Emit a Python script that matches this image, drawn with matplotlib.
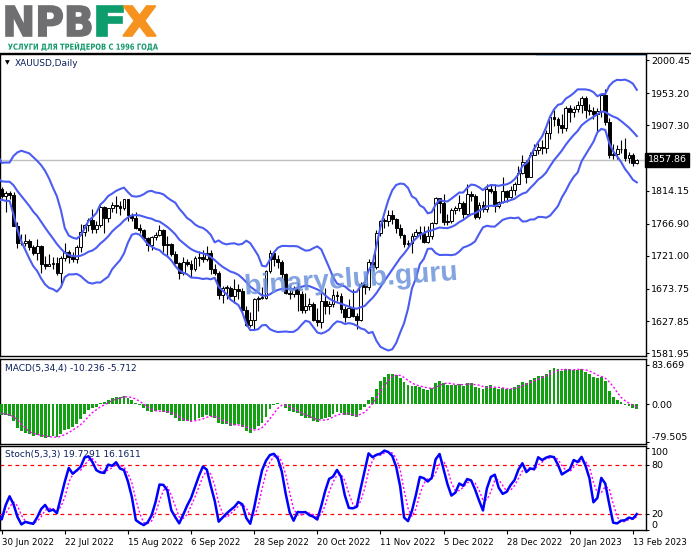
import numpy as np
import matplotlib
matplotlib.use('Agg')
import matplotlib.pyplot as plt
from matplotlib.textpath import TextPath
from matplotlib.path import Path
from matplotlib.patches import PathPatch
from matplotlib.font_manager import FontProperties
from matplotlib.transforms import Affine2D, blended_transform_factory
from matplotlib.lines import Line2D

plt.rcParams['font.family'] = ['DejaVu Sans']

# ---------------- DATA (XAUUSD daily, O/H/L/C) ----------------
# first N_WARM bars are history before the visible window (used only for indicators)
N_WARM = 48
opens = [1934, 1898, 1904, 1886, 1894, 1896, 1862, 1868, 1881, 1877, 1883, 1854, 1838, 1853, 1822, 1811, 1824, 1815, 1815, 1841,
         1846, 1853, 1865, 1853, 1851, 1853, 1856, 1837, 1847, 1869, 1851, 1841, 1852, 1853, 1848, 1871, 1819, 1808, 1835, 1857,
         1840, 1839, 1832, 1838, 1822, 1827, 1823, 1820,
         1817, 1807, 1811, 1808, 1764, 1739, 1740, 1742, 1733, 1725, 1735, 1710, 1707, 1709, 1711, 1696, 1718, 1727, 1719, 1717,
         1734, 1755, 1765, 1772, 1760, 1765, 1791, 1775, 1789, 1794, 1792, 1789, 1802, 1779, 1775, 1761, 1758, 1747, 1736, 1748,
         1751, 1758, 1737, 1738, 1723, 1711, 1697, 1712, 1710, 1702, 1718, 1720, 1716, 1725, 1702, 1697, 1665, 1675, 1675, 1664,
         1673, 1671, 1644, 1622, 1629, 1660, 1661, 1661, 1699, 1725, 1716, 1712, 1695, 1668, 1666, 1673, 1666, 1644, 1650, 1652,
         1629, 1627, 1657, 1649, 1652, 1665, 1663, 1645, 1634, 1647, 1635, 1630, 1681, 1676, 1712, 1705, 1754, 1771, 1771, 1779,
         1774, 1761, 1751, 1738, 1740, 1750, 1755, 1754, 1741, 1749, 1768, 1803, 1797, 1769, 1771, 1786, 1789, 1797, 1781, 1810,
         1807, 1777, 1793, 1788, 1817, 1814, 1792, 1798, 1813, 1805, 1815, 1824, 1839, 1855, 1833, 1865, 1872, 1877, 1875, 1896,
         1920, 1916, 1908, 1904, 1932, 1926, 1931, 1936, 1946, 1930, 1928, 1923, 1928, 1951, 1912, 1865, 1867, 1873, 1874, 1861,
         1865, 1853]
highs = [1936, 1911, 1906, 1897, 1920, 1899, 1872, 1883, 1909, 1890, 1886, 1860, 1859, 1857, 1826, 1826, 1832, 1822, 1847, 1850,
         1865, 1870, 1868, 1858, 1860, 1860, 1857, 1852, 1871, 1874, 1855, 1856, 1860, 1858, 1876, 1878, 1832, 1836, 1857, 1858,
         1846, 1847, 1848, 1839, 1831, 1837, 1830, 1829,
         1820, 1813, 1813, 1812, 1770, 1752, 1752, 1745, 1736, 1745, 1737, 1721, 1724, 1719, 1719, 1721, 1739, 1730, 1727, 1737,
         1767, 1767, 1775, 1788, 1771, 1793, 1792, 1790, 1798, 1807, 1800, 1802, 1802, 1782, 1783, 1767, 1760, 1748, 1750, 1755,
         1765, 1759, 1749, 1740, 1728, 1712, 1720, 1716, 1715, 1721, 1728, 1729, 1735, 1730, 1709, 1699, 1678, 1680, 1678, 1688,
         1681, 1675, 1650, 1641, 1661, 1664, 1676, 1701, 1729, 1727, 1722, 1715, 1697, 1679, 1678, 1683, 1671, 1668, 1661, 1655,
         1646, 1670, 1675, 1656, 1674, 1671, 1668, 1650, 1660, 1673, 1640, 1683, 1681, 1717, 1722, 1758, 1772, 1775, 1787, 1786,
         1775, 1766, 1752, 1744, 1754, 1760, 1763, 1764, 1764, 1769, 1805, 1804, 1810, 1781, 1789, 1792, 1808, 1800, 1824, 1814,
         1809, 1798, 1799, 1823, 1824, 1823, 1800, 1833, 1815, 1821, 1826, 1850, 1865, 1858, 1870, 1881, 1882, 1886, 1901, 1922,
         1929, 1920, 1924, 1935, 1936, 1935, 1942, 1949, 1949, 1938, 1934, 1932, 1952, 1959, 1918, 1881, 1880, 1886, 1890, 1870,
         1868, 1859]
lows = [1891, 1890, 1881, 1872, 1888, 1850, 1850, 1861, 1865, 1870, 1850, 1832, 1836, 1821, 1798, 1787, 1810, 1807, 1813, 1834,
        1843, 1851, 1846, 1845, 1848, 1849, 1831, 1828, 1843, 1850, 1836, 1838, 1846, 1841, 1825, 1819, 1805, 1806, 1812, 1832,
        1834, 1830, 1825, 1818, 1816, 1818, 1815, 1814,
        1803, 1784, 1802, 1763, 1732, 1736, 1735, 1730, 1722, 1715, 1697, 1702, 1706, 1702, 1693, 1681, 1713, 1711, 1712, 1711,
        1727, 1750, 1757, 1754, 1754, 1762, 1754, 1770, 1783, 1782, 1779, 1786, 1771, 1771, 1759, 1753, 1745, 1728, 1729, 1744,
        1749, 1727, 1720, 1721, 1709, 1688, 1694, 1707, 1691, 1700, 1707, 1712, 1713, 1695, 1693, 1660, 1654, 1659, 1662, 1654,
        1659, 1640, 1621, 1620, 1615, 1642, 1659, 1660, 1696, 1707, 1704, 1690, 1667, 1659, 1662, 1642, 1640, 1640, 1643, 1628,
        1621, 1618, 1638, 1638, 1648, 1657, 1640, 1626, 1633, 1634, 1617, 1628, 1666, 1672, 1700, 1702, 1750, 1761, 1763, 1767,
        1754, 1747, 1733, 1733, 1725, 1747, 1745, 1739, 1740, 1745, 1766, 1782, 1765, 1765, 1768, 1781, 1785, 1775, 1779, 1799,
        1774, 1774, 1783, 1784, 1811, 1784, 1789, 1796, 1798, 1803, 1808, 1824, 1838, 1825, 1833, 1865, 1867, 1867, 1868, 1888,
        1907, 1896, 1896, 1900, 1912, 1920, 1927, 1925, 1918, 1922, 1917, 1900, 1920, 1908, 1861, 1860, 1860, 1868, 1857, 1853,
        1850, 1852]
closes = [1898, 1904, 1886, 1894, 1896, 1862, 1868, 1881, 1877, 1883, 1854, 1838, 1853, 1822, 1811, 1824, 1815, 1815, 1841, 1846,
          1853, 1865, 1853, 1851, 1853, 1856, 1837, 1847, 1869, 1851, 1841, 1852, 1853, 1848, 1871, 1819, 1808, 1835, 1857, 1840,
          1839, 1832, 1838, 1822, 1827, 1823, 1820, 1817,
          1807, 1811, 1808, 1764, 1739, 1740, 1742, 1733, 1725, 1735, 1710, 1707, 1709, 1711, 1696, 1718, 1727, 1719, 1717, 1734,
          1755, 1765, 1772, 1760, 1765, 1791, 1775, 1789, 1794, 1792, 1789, 1802, 1779, 1775, 1761, 1758, 1747, 1736, 1748, 1751,
          1758, 1737, 1738, 1723, 1711, 1697, 1712, 1710, 1702, 1718, 1720, 1716, 1725, 1702, 1697, 1665, 1675, 1675, 1664, 1673,
          1671, 1644, 1622, 1629, 1660, 1661, 1661, 1699, 1725, 1716, 1712, 1695, 1668, 1666, 1673, 1666, 1644, 1650, 1652, 1629,
          1627, 1657, 1649, 1652, 1665, 1663, 1645, 1634, 1647, 1635, 1630, 1681, 1676, 1712, 1705, 1754, 1771, 1771, 1779, 1774,
          1761, 1751, 1738, 1740, 1750, 1755, 1754, 1741, 1749, 1768, 1803, 1797, 1769, 1771, 1786, 1789, 1797, 1781, 1810, 1807,
          1777, 1793, 1788, 1817, 1814, 1792, 1798, 1813, 1805, 1815, 1824, 1839, 1855, 1833, 1865, 1872, 1877, 1875, 1896, 1920,
          1916, 1908, 1904, 1932, 1926, 1931, 1936, 1946, 1930, 1928, 1923, 1928, 1951, 1912, 1865, 1867, 1873, 1874, 1861, 1865,
          1853, 1857.86]

date_labels = ["30 Jun 2022", "22 Jul 2022", "15 Aug 2022", "6 Sep 2022", "28 Sep 2022", "20 Oct 2022",
               "11 Nov 2022", "5 Dec 2022", "28 Dec 2022", "20 Jan 2023", "13 Feb 2023"]
date_label_bars = [0, 16, 32, 48, 64, 80, 96, 112, 128, 144, 160]   # bar index within visible window
price_ticks = [2000.45, 1953.20, 1907.30, 1814.15, 1766.90, 1721.00, 1673.75, 1627.85, 1581.95]
current_price = 1857.86
macd_ticks = [83.669, 0.0, -79.505]
macd_ticklabels = ["83.669", "0.00", "-79.505"]
stoch_ticks = [100, 80, 20, 0]
stoch_levels = [20, 80]
macd_text = "MACD(5,34,4) -10.236 -5.712"
stoch_text = "Stoch(5,3,3) 19.7291 16.1611"
BB_PERIOD, BB_DEV = 14, 2.0

# ---------------- INDICATORS ----------------
o = np.array(opens, float); h = np.array(highs, float)
l = np.array(lows, float); c = np.array(closes, float)
n = len(c)
x = np.arange(n) - N_WARM

def ema(v, p):
    a = 2.0 / (p + 1); out = np.empty_like(v); out[0] = v[0]
    for i in range(1, len(v)):
        out[i] = a * v[i] + (1 - a) * out[i - 1]
    return out

def sma(v, p):
    out = np.full(len(v), np.nan)
    for i in range(p - 1, len(v)):
        out[i] = np.mean(v[i - p + 1:i + 1])
    return out

macd = ema(c, 5) - ema(c, 34)
signal = sma(macd, 4)

bb_mid = sma(c, BB_PERIOD)
bb_sd = np.full(n, np.nan)
for i in range(BB_PERIOD - 1, n):
    bb_sd[i] = np.std(c[i - BB_PERIOD + 1:i + 1])
bb_up = bb_mid + BB_DEV * bb_sd
bb_dn = bb_mid - BB_DEV * bb_sd

LL = np.array([l[max(0, i - 4):i + 1].min() for i in range(n)])
HH = np.array([h[max(0, i - 4):i + 1].max() for i in range(n)])
num = c - LL; den = HH - LL
stK = np.full(n, np.nan)
for i in range(2, n):
    stK[i] = 100 * num[i - 2:i + 1].sum() / den[i - 2:i + 1].sum()
stD = sma(np.nan_to_num(stK), 3)

# ---------------- FIGURE ----------------
W, H = 691, 549
fig = plt.figure(figsize=(W / 100, H / 100), dpi=100)
fig.patch.set_facecolor('white')

def fy(py):
    return 1 - py / H

XR = 645.5
xlim = (-0.43, 163.2)

def mk_axes(top, bottom):
    ax = fig.add_axes([0, fy(bottom), XR / W, (bottom - top) / H])
    ax.set_xlim(*xlim)
    for s in ax.spines.values():
        s.set_color('black'); s.set_linewidth(1)
    ax.yaxis.tick_right()
    ax.tick_params(axis='y', length=2.5, width=0.8, labelsize=6.8, pad=1.5, colors='black')
    ax.set_xticks([])
    return ax

ax1 = mk_axes(53.5, 356)
ax2 = mk_axes(358.5, 444)
ax3 = mk_axes(446, 530)

vis = x >= -1

# ---- main pane ----
ax1.set_ylim(1577.86, 2010.0)
ax1.axhline(current_price, color='#c0c0c0', lw=1, zorder=1)
bb_col = '#4b5cf2'
for band in (bb_up, bb_mid, bb_dn):
    ax1.plot(x[vis], band[vis], color=bb_col, lw=1.5, zorder=5)
ax1.vlines(x[vis], l[vis], h[vis], color='black', lw=0.8, zorder=3)
up = (c >= o) & vis
dn = (c < o) & vis
body_b = np.minimum(o, c)
body_h = np.maximum(np.abs(c - o), 0.9)
ax1.bar(x[up], body_h[up], bottom=body_b[up], width=0.72, facecolor='white', edgecolor='black', lw=0.7, zorder=4)
ax1.bar(x[dn], body_h[dn], bottom=body_b[dn], width=0.72, facecolor='black', edgecolor='black', lw=0.7, zorder=4)
ax1.set_yticks(price_ticks)
ax1.set_yticklabels([f"{v:.2f}" for v in price_ticks])
ax1.text(1.003, current_price, f"{current_price:.2f}", transform=blended_transform_factory(ax1.transAxes, ax1.transData),
         ha='left', va='center', fontsize=6.8, color='white', clip_on=False,
         bbox=dict(facecolor='black', edgecolor='black', pad=1.6))
ax1.plot([537 / XR, 1.0], [0.995, 0.995], transform=ax1.transAxes, color='#a8d4f2', lw=1.2, zorder=2)
ax1.text(5 / XR, (356 - 63) / (356 - 53.5), "▼", transform=ax1.transAxes, fontsize=4.5, ha='left', va='center', color='black')
ax1.text(15 / XR, (356 - 63) / (356 - 53.5), "XAUUSD,Daily", transform=ax1.transAxes, fontsize=6.5,
         ha='left', va='center', color='#0b1f5c')

# ---- MACD pane ----
ax2.set_ylim(-84.5, 97.4)
ax2.bar(x[vis], macd[vis], width=0.72, color='#12a012', zorder=3)
ax2.plot(x[vis], signal[vis], color='#ff00ff', lw=1.0, ls=(0, (1.5, 1.5)), zorder=4)
ax2.set_yticks(macd_ticks)
ax2.set_yticklabels(macd_ticklabels)
ax2.get_yticklabels()[-1].set_va('bottom')
ax2.text(5 / XR, (444 - 368) / (444 - 358.5), macd_text, transform=ax2.transAxes, fontsize=6.5,
         ha='left', va='center', color='#0b1f5c')

# ---- Stochastic pane ----
ax3.set_ylim(0, 103)
for lev in stoch_levels:
    ax3.axhline(lev, color='#ff0000', lw=0.9, ls=(0, (3, 3)), zorder=2)
ax3.plot(x[vis], stD[vis], color='#ff00ff', lw=1.0, ls=(0, (1.5, 1.5)), zorder=3)
ax3.plot(x[vis], stK[vis], color='#0000ff', lw=1.8, zorder=4)
ax3.set_yticks(stoch_ticks)
ax3.set_yticklabels([str(v) for v in stoch_ticks])
labs = ax3.get_yticklabels()
labs[0].set_va('top'); labs[-1].set_va('bottom')
ax3.text(5 / XR, (530 - 455) / (530 - 446), stoch_text, transform=ax3.transAxes, fontsize=6.5,
         ha='left', va='center', color='#0b1f5c')
ax3.set_xticks(date_label_bars)
ax3.set_xticklabels(date_labels, fontsize=6.2, ha='left')
ax3.tick_params(axis='x', length=3, width=0.8, pad=3)

# ---- figure decorations ----
fig.add_artist(Line2D([0, 1], [fy(53), fy(53)], color='black', lw=1, transform=fig.transFigure))

def path_text(s, box, color, family='DejaVu Sans', weight='bold', rot=0.0, alpha=1.0, z=10,
              uniform=False, stroke=0.0):
    x0, y0, x1, y1 = box  # pixel box, y from top
    tp = TextPath((0, 0), s, size=10, prop=FontProperties(family=family, weight=weight))
    verts = tp.vertices
    codes = tp.codes
    m = np.ones(len(verts), bool) if codes is None else (codes != Path.CLOSEPOLY)
    vx0, vy0 = verts[m].min(axis=0)
    vx1, vy1 = verts[m].max(axis=0)
    ew, eh = vx1 - vx0, vy1 - vy0
    sx = (x1 - x0) / ew
    sy = sx if uniform else (y1 - y0) / eh
    w, hh = ew * sx, eh * sy
    cx, cy = (x0 + x1) / 2, H - (y0 + y1) / 2
    tr = (Affine2D().translate(-vx0, -vy0).scale(sx, sy).translate(-w / 2, -hh / 2)
          .rotate_deg(rot).translate(cx, cy).scale(1 / W, 1 / H))
    p = tr.transform_path(tp)
    fig.add_artist(PathPatch(p, facecolor=color, edgecolor=color if stroke else 'none', lw=stroke,
                             transform=fig.transFigure, alpha=alpha, zorder=z))

# logo
path_text("NPB", (6, 6, 91, 36), '#6f6f71', stroke=1.2)
path_text("F", (97, 6, 123, 36), '#0d9c6c', stroke=1.2)
path_text("X", (123, 6, 156, 36), '#f6921e', stroke=1.2)
path_text("УСЛУГИ ДЛЯ ТРЕЙДЕРОВ С 1996 ГОДА", (8, 42, 158, 51), '#139a69')

# watermark
path_text("binaryclub.guru", (246, 266, 456, 294), '#6e93dc', family='Liberation Sans', rot=4.0, alpha=0.85, z=20,
          uniform=True)

fig.savefig('out.png', dpi=100, facecolor='white')
